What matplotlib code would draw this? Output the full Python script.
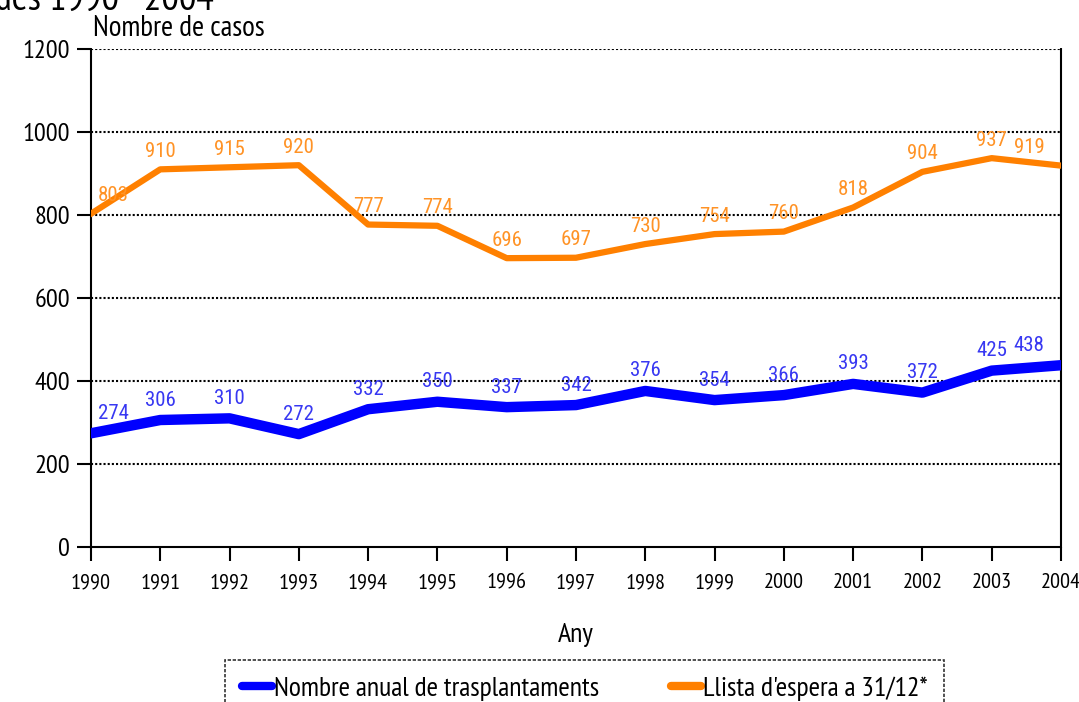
import matplotlib
matplotlib.use('Agg')
import matplotlib.pyplot as plt

plt.rcParams['font.family'] = ['PT Sans Narrow', 'Liberation Sans', 'DejaVu Sans']
LABEL_FONT = ['Roboto Condensed', 'DejaVu Sans']

years = list(range(1990, 2005))
trasplantaments = [274, 306, 310, 272, 332, 350, 337, 342, 376, 354, 366, 393, 372, 425, 438]
llista_espera = [803, 910, 915, 920, 777, 774, 696, 697, 730, 754, 760, 818, 904, 937, 919]
yticks = [0, 200, 400, 600, 800, 1000, 1200]

BLUE = '#0000ff'
ORANGE = '#ff8000'
dotted = (0, (1, 1))

fig = plt.figure(figsize=(10.79, 7.02), dpi=100)
ax = fig.add_axes([0.0843, 0.2208, 0.899, 0.7094])

ax.plot(years, trasplantaments, color=BLUE, lw=7.5, solid_capstyle='round',
        solid_joinstyle='round', label='Nombre anual de trasplantaments', zorder=3)
ax.plot(years, llista_espera, color=ORANGE, lw=4.5, solid_joinstyle='round',
        label="Llista d'espera a 31/12*", zorder=3)

def label_series(vals, color, dy):
    for i, (x, v) in enumerate(zip(years, vals)):
        dx = 0
        if i == 0:
            dx = 22
        elif i == len(vals) - 1:
            dx = -32
        ax.annotate(str(v), (x, v), xytext=(dx, dy), textcoords='offset pixels',
                    ha='center', va='center', color=color, fontsize=15,
                    family=LABEL_FONT, zorder=4)

label_series(llista_espera, '#ff9326', 18)
label_series(trasplantaments, '#3838f2', 20)

ax.set_xlim(1990, 2004)
ax.set_ylim(0, 1200)
ax.set_yticks(yticks)
ax.set_xticks(years)
ax.tick_params(axis='y', labelsize=19, length=10, width=1.5, direction='out', pad=5)
ax.tick_params(axis='x', labelsize=16, length=10, width=1.5, direction='out', pad=9)
for t in ax.xaxis.get_major_ticks() + ax.yaxis.get_major_ticks():
    t.tick1line.set_linestyle(dotted)

for y in yticks[1:]:
    ax.axhline(y, color='black', lw=1.5, ls=dotted, zorder=1)

for side in ['left', 'bottom', 'right']:
    ax.spines[side].set_linestyle(dotted)
    ax.spines[side].set_linewidth(1.5)
ax.spines['top'].set_visible(False)

ax.set_xlabel('Any', fontsize=20, labelpad=22)
fig.text(0.086, 0.96, 'Nombre de casos', fontsize=21, va='center', ha='left')
fig.text(-0.005, 0.986, 'des 1990 - 2004', fontsize=28, va='baseline', ha='left')

leg = fig.legend(loc='upper left', bbox_to_anchor=(0.2085, 0.0598), ncol=2,
                 fontsize=20, frameon=True, fancybox=False, handlelength=1.1,
                 handletextpad=0.05, columnspacing=2.6, borderpad=0.6,
                 borderaxespad=0)
leg.get_frame().set_edgecolor('black')
leg.get_frame().set_linestyle((0, (2, 1)))
leg.get_frame().set_linewidth(1.2)
for h in leg.get_lines():
    h.set_linewidth(6)
    h.set_solid_capstyle('round')

fig.savefig('out.png', dpi=100)
